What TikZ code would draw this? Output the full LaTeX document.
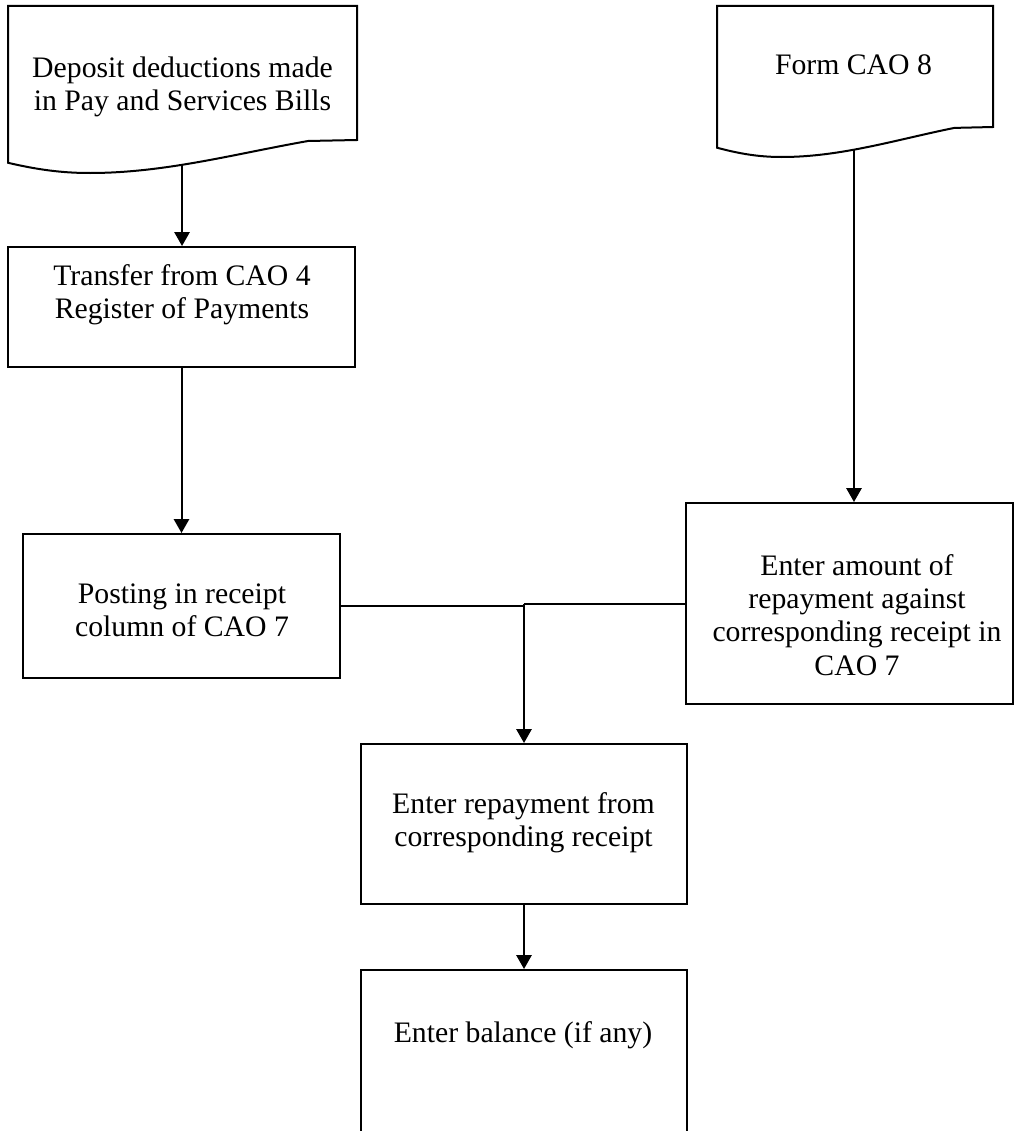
\documentclass[tikz,border=0pt]{standalone}
\usepackage{fontspec}
\setmainfont{Liberation Serif}
\usetikzlibrary{arrows.meta,intersections}

% Flowchart "document" symbol: flat top, wavy bottom edge.
% #1 left x, #2 right x, #3 top y, #4 bottom y at the right side,
% #5 depth of the wave, #6 path name
\newcommand\flowdoc[6]{%
  \pgfmathsetmacro\dw{#2-#1}%
  \draw[docline, name path=#6]
    (#1,#3) -- (#2,#3) -- (#2,#4)
    -- ({#1+0.86*\dw},{#4+0.03*#5})
    .. controls ({#1+0.65*\dw},{#4+0.42*#5}) and ({#1+0.45*\dw},{#4+#5}) ..
       ({#1+0.235*\dw},{#4+#5})
    .. controls ({#1+0.17*\dw},{#4+#5}) and ({#1+0.1*\dw},{#4+0.94*#5}) ..
       (#1,{#4+0.69*#5}) -- cycle;
}

\begin{document}
\begin{tikzpicture}[x=0.75pt,y=-0.75pt,
  docline/.style={line width=1.5pt, line join=miter, fill=white},
  box/.style={draw, line width=1.5pt, rectangle, inner sep=0pt, fill=white},
  lbl/.style={align=center, inner sep=0pt, font=\fontsize{22.3}{25}\selectfont},
  flow/.style={-{Triangle[length=10.5pt,width=11.5pt]}, line width=1.5pt},
  link/.style={line width=1.5pt}]

% page area
\clip (0,0) rectangle (1015,1131);
\fill[white] (0,0) rectangle (1015,1131);

% source documents
\flowdoc{8}{357}{6}{140}{33}{deposits}
\node[lbl] (deptext) at (182.5,87) {Deposit deductions made\\in Pay and Services Bills};

\flowdoc{717}{993}{6}{127}{30}{cao8}
\node[lbl] (cao8text) at (853.5,65) {Form CAO 8};

% exit points on the wavy edges
\path[name path=dropA] (182,40) -- (182,300);
\path[name intersections={of=deposits and dropA, by=depout}];
\path[name path=dropB] (854,40) -- (854,300);
\path[name intersections={of=cao8 and dropB, by=cao8out}];

% process boxes
\node[box, minimum width=260.25pt, minimum height=90pt] (xfer) at (181.5,307) {};
\node[lbl] (xfertext) at (182,295) {Transfer from CAO 4\\Register of Payments};

\node[box, minimum width=237.75pt, minimum height=108pt] (post) at (181.5,606) {};
\node[lbl] (posttext) at (182,610) {Posting in receipt\\column of CAO 7};

\node[box, minimum width=245.25pt, minimum height=150.75pt] (amt) at (849.5,603.5) {};
\node[lbl] (amttext) at (857,615) {Enter amount of\\repayment against\\corresponding receipt in\\CAO 7};

\node[box, minimum width=244.5pt, minimum height=120pt] (repay) at (524,824) {};
\node[lbl] (repaytext) at (523.5,823) {Enter repayment from\\corresponding receipt};

\node[box, minimum width=244.5pt, minimum height=150pt] (bal) at (524,1070) {};
\node[lbl] (baltext) at (523,1035) {Enter balance (if any)};

% connectors
\draw[flow] (depout) -- (depout |- xfer.north);
\draw[flow] (xfer.south) -- (xfer.south |- post.north);
\draw[flow] (cao8out) -- (cao8out |- amt.north);
\draw[link] (post.east) -- (post.east -| repay.north);
\draw[link] (amt.west) -- (amt.west -| repay.north);
\draw[flow] (amt.west -| repay.north) -- (repay.north);
\draw[flow] (repay.south) -- (bal.north);
\end{tikzpicture}
\end{document}
